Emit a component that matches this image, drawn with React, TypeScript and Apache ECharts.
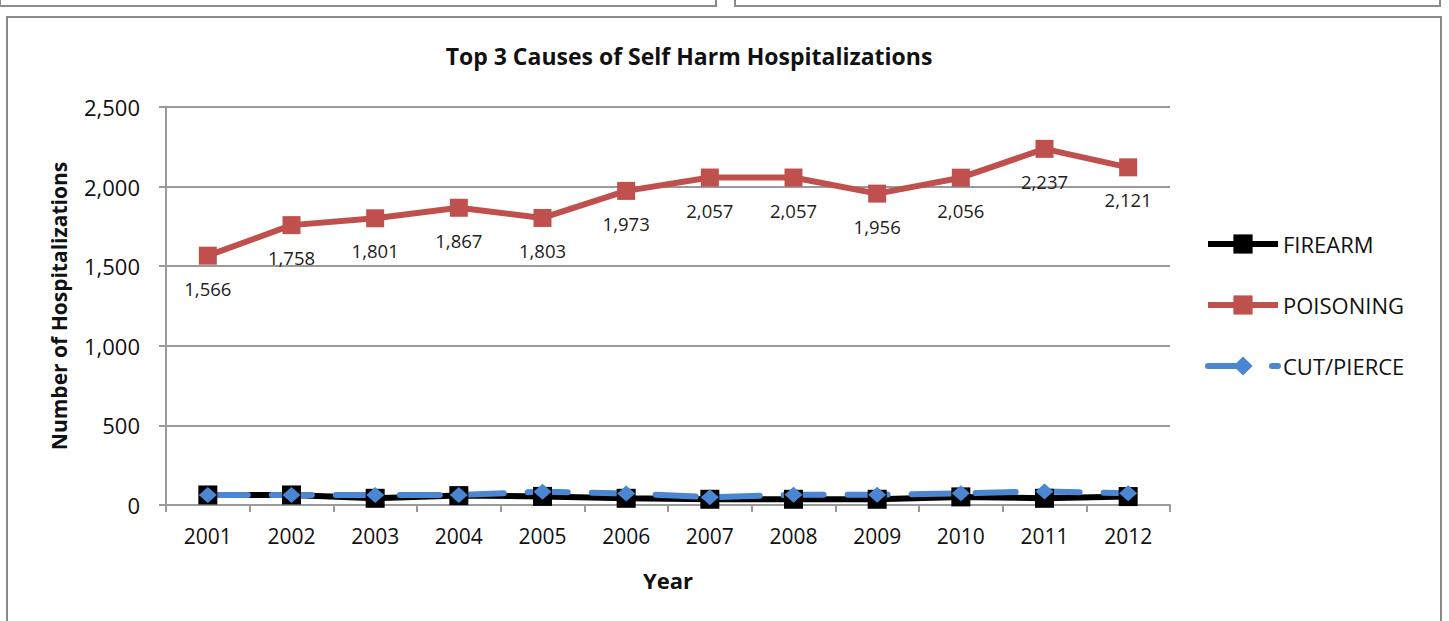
import React, { useEffect, useRef } from "react";
import * as echarts from "echarts";

const years = ["2001", "2002", "2003", "2004", "2005", "2006", "2007", "2008", "2009", "2010", "2011", "2012"];
const firearm = [63, 63, 42, 59, 54, 42, 36, 36, 36, 51, 42, 53];
const poisoning = [1566, 1758, 1801, 1867, 1803, 1973, 2057, 2057, 1956, 2056, 2237, 2121];
const cutPierce = [63, 63, 63, 63, 84, 73, 49, 64, 64, 74, 85, 74];

const FONT = "'Open Sans', 'Noto Sans', sans-serif";

export default function App() {
  const ref = useRef<HTMLDivElement>(null);
  useEffect(() => {
    if (!ref.current) return;
    const chart = echarts.init(ref.current, null, { renderer: "svg" });
    const fmt = (v: number) => v.toLocaleString("en-US");
    chart.setOption({
      animation: false,
      backgroundColor: "#ffffff",
      textStyle: { fontFamily: FONT },
      title: {
        text: "Top 3 Causes of Self Harm Hospitalizations",
        left: 684,
        textAlign: "center",
        top: 39,
        textStyle: { fontFamily: FONT, fontWeight: "bold", fontSize: 23, color: "#111" },
      },
      graphic: [
        { type: "rect", shape: { x: 0, y: -20, width: 716, height: 26 }, style: { fill: "#fff", stroke: "#8a8a8a", lineWidth: 2 } },
        { type: "rect", shape: { x: 735, y: -20, width: 705, height: 26 }, style: { fill: "#fff", stroke: "#8a8a8a", lineWidth: 2 } },
        { type: "rect", z: -10, shape: { x: 7, y: 17, width: 1434, height: 640 }, style: { fill: "#fff", stroke: "#8a8a8a", lineWidth: 2 } },
      ],
      legend: {
        orient: "vertical",
        left: 1200,
        top: 228,
        itemWidth: 70,
        itemHeight: 24,
        itemGap: 39,
        textStyle: { fontFamily: FONT, fontSize: 22, color: "#111" },
        lineStyle: { width: 6 },
        data: ["FIREARM", "POISONING", "CUT/PIERCE"],
      },
      grid: { left: 166, right: 279, top: 107, bottom: 116, containLabel: false },
      xAxis: {
        type: "category",
        data: years,
        boundaryGap: true,
        name: "Year",
        nameLocation: "middle",
        nameGap: 64,
        nameTextStyle: { fontFamily: FONT, fontWeight: "bold", fontSize: 22, color: "#111" },
        axisLine: { lineStyle: { color: "#9a9a9a", width: 2 } },
        axisTick: { show: true, alignWithLabel: false, length: 7, lineStyle: { color: "#9a9a9a", width: 2 } },
        axisLabel: { margin: 20, fontSize: 21, color: "#111", fontFamily: FONT },
      },
      yAxis: {
        type: "value",
        min: 0,
        max: 2500,
        interval: 500,
        name: "Number of Hospitalizations",
        nameLocation: "middle",
        nameGap: 97,
        nameTextStyle: { fontFamily: FONT, fontWeight: "bold", fontSize: 21, color: "#111" },
        axisLine: { show: true, lineStyle: { color: "#9a9a9a", width: 2 } },
        axisTick: { show: true, length: 7, lineStyle: { color: "#9a9a9a", width: 2 } },
        axisLabel: { margin: 26, fontSize: 22, color: "#111", fontFamily: FONT, formatter: (v: number) => fmt(v) },
        splitLine: { lineStyle: { color: "#9a9a9a", width: 2 } },
      },
      series: [
        {
          name: "FIREARM",
          type: "line",
          data: firearm,
          symbol: "rect",
          symbolSize: 19,
          itemStyle: { color: "#000000" },
          lineStyle: { color: "#000000", width: 6 },
        },
        {
          name: "POISONING",
          type: "line",
          data: poisoning,
          symbol: "rect",
          symbolSize: 18,
          itemStyle: { color: "#C0504D" },
          lineStyle: { color: "#C0504D", width: 6 },
          label: {
            show: true,
            position: "bottom",
            distance: 14,
            fontSize: 18.5,
            color: "#222",
            fontFamily: FONT,
            formatter: (p: any) => fmt(p.value),
          },
        },
        {
          name: "CUT/PIERCE",
          type: "line",
          data: cutPierce,
          symbol: "diamond",
          symbolSize: [18, 16],
          itemStyle: { color: "#4A86D2" },
          lineStyle: { color: "#4A86D2", width: 6, type: [40, 24], cap: "round" },
        },
      ],
    });
    return () => chart.dispose();
  }, []);
  return (
    <div
      ref={ref}
      style={{ position: "fixed", left: 0, top: 0, width: 1449, height: 621, background: "#fff" }}
    />
  );
}
